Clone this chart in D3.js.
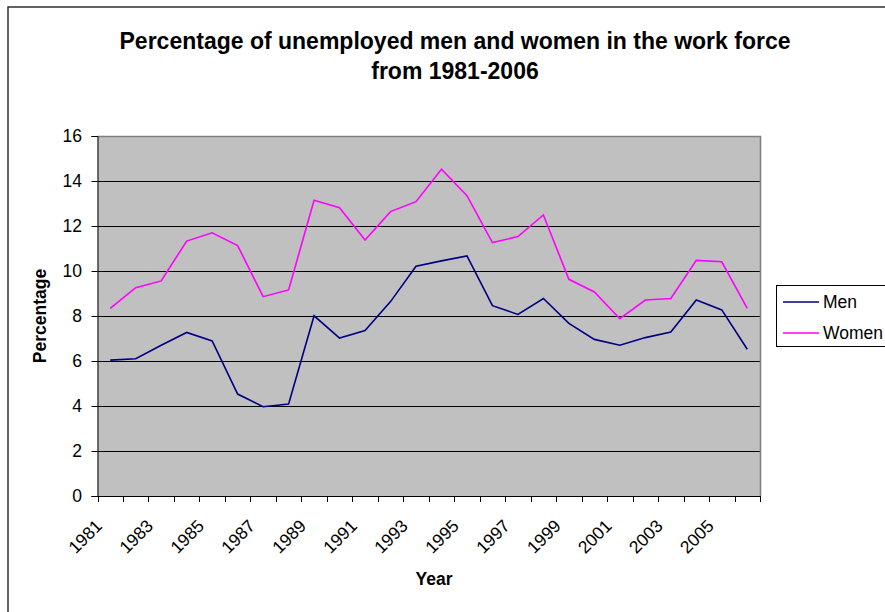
<!DOCTYPE html>
<html>
<head>
<meta charset="utf-8">
<script src="https://d3js.org/d3.v7.min.js"></script>
<style>
  body { margin: 0; background: #fff; }
  svg { display: block; font-family: "Liberation Sans", Arial, sans-serif; }
</style>
</head>
<body>
<div id="chart"></div>
<script>
// unemployment data
const years = d3.range(1981, 2007).map(String);
const men = [6.04, 6.10, 6.70, 7.27, 6.89, 4.53, 3.97, 4.09, 8.01, 7.02, 7.35, 8.64, 10.21,
             10.45, 10.67, 8.46, 8.07, 8.78, 7.67, 6.96, 6.70, 7.04, 7.29, 8.71, 8.27, 6.52];
const women = [8.34, 9.26, 9.56, 11.33, 11.70, 11.13, 8.86, 9.16, 13.14, 12.81, 11.38, 12.64, 13.08,
               14.52, 13.35, 11.26, 11.53, 12.49, 9.63, 9.07, 7.88, 8.71, 8.78, 10.47, 10.41, 8.34];
const yTicks = [0, 2, 4, 6, 8, 10, 12, 14, 16];
const seriesNames = ['Men', 'Women'];
const seriesColors = ['#000080', '#ff00ff'];

const W = 885, H = 612;
const plot = { left: 97.5, top: 136, right: 760, bottom: 496 };

const svg = d3.select('#chart').append('svg').attr('width', W).attr('height', H);

// outer frame of the chart (runs off the right and bottom)
svg.append('rect').attr('x', 8).attr('y', 7).attr('width', W).attr('height', H)
  .attr('fill', '#fff').attr('stroke', '#222').attr('stroke-width', 1.4);

const x = d3.scaleBand().domain(years).range([plot.left, plot.right]);
const y = d3.scaleLinear().domain([0, 16]).range([plot.bottom, plot.top]);

svg.append('rect').attr('x', plot.left).attr('y', plot.top)
  .attr('width', plot.right - plot.left).attr('height', plot.bottom - plot.top)
  .attr('fill', '#c0c0c0');

// gridlines
svg.append('g').selectAll('line').data(yTicks.filter(d => d > 0 && d < 16)).enter().append('line')
  .attr('x1', plot.left).attr('x2', plot.right)
  .attr('y1', d => Math.round(y(d)) + 0.5).attr('y2', d => Math.round(y(d)) + 0.5)
  .attr('stroke', '#000').attr('stroke-width', 1);

// plot border top/right
svg.append('path')
  .attr('d', `M${plot.left},${plot.top + 0.5}H${plot.right + 0.5}V${plot.bottom}`)
  .attr('fill', 'none').attr('stroke', '#808080').attr('stroke-width', 1.6);

// y axis
const yAxis = svg.append('g').attr('transform', `translate(${plot.left},0)`)
  .call(d3.axisLeft(y).tickValues(yTicks).tickSize(6).tickPadding(9.5));
yAxis.select('.domain').attr('stroke', '#000');
yAxis.selectAll('text').attr('font-size', 17.5).attr('fill', '#000')
  .attr('font-family', '"Liberation Sans", Arial, sans-serif');

// x axis: ticks at category boundaries
const bounds = years.map(d => x(d)).concat([plot.right]);
const xg = svg.append('g');
xg.append('line').attr('x1', plot.left).attr('x2', plot.right + 0.5)
  .attr('y1', plot.bottom + 0.5).attr('y2', plot.bottom + 0.5).attr('stroke', '#000');
xg.selectAll('line.tk').data(bounds).enter().append('line').attr('class', 'tk')
  .attr('x1', d => Math.round(d) + 0.5).attr('x2', d => Math.round(d) + 0.5)
  .attr('y1', plot.bottom).attr('y2', plot.bottom + 6).attr('stroke', '#000');
xg.selectAll('text').data(years.filter((d, i) => i % 2 === 0)).enter().append('text')
  .attr('transform', d => `translate(${x(d) + x.bandwidth() / 2 - 7},${plot.bottom + 31}) rotate(-45)`)
  .attr('text-anchor', 'end').attr('font-size', 17.5).attr('fill', '#000')
  .text(d => d);

// lines
const line = d3.line().x((d, i) => x(years[i]) + x.bandwidth() / 2).y(d => y(d));
[men, women].forEach((vals, k) => {
  svg.append('path').datum(vals).attr('d', line)
    .attr('fill', 'none').attr('stroke', seriesColors[k]).attr('stroke-width', 1.6)
    .attr('stroke-linejoin', 'miter');
});

// titles
const title = svg.append('text').attr('text-anchor', 'middle')
  .attr('font-size', 23).attr('font-weight', 'bold').attr('fill', '#000');
title.append('tspan').attr('x', 455).attr('y', 48.5)
  .text('Percentage of unemployed men and women in the work force');
title.append('tspan').attr('x', 455).attr('y', 79).text('from 1981-2006');

svg.append('text').attr('text-anchor', 'middle').attr('font-size', 17.5).attr('font-weight', 'bold')
  .attr('x', 434).attr('y', 585).text('Year');

svg.append('text').attr('text-anchor', 'middle').attr('font-size', 17.5).attr('font-weight', 'bold')
  .attr('transform', `translate(45.5,${(plot.top + plot.bottom) / 2}) rotate(-90)`).text('Percentage');

// legend (box runs off the right edge, text kept inside the page)
const lg = svg.append('g');
lg.append('rect').attr('x', 776.5).attr('y', 285.5).attr('width', 130).attr('height', 61)
  .attr('fill', '#fff').attr('stroke', '#000').attr('stroke-width', 1);
seriesNames.forEach((name, k) => {
  const ly = 302 + k * 31;
  lg.append('line').attr('x1', 783).attr('x2', 819).attr('y1', ly).attr('y2', ly)
    .attr('stroke', seriesColors[k]).attr('stroke-width', 1.6);
  lg.append('text').attr('x', 823).attr('y', ly + 6).attr('font-size', 17.5).text(name);
});
</script>
</body>
</html>
